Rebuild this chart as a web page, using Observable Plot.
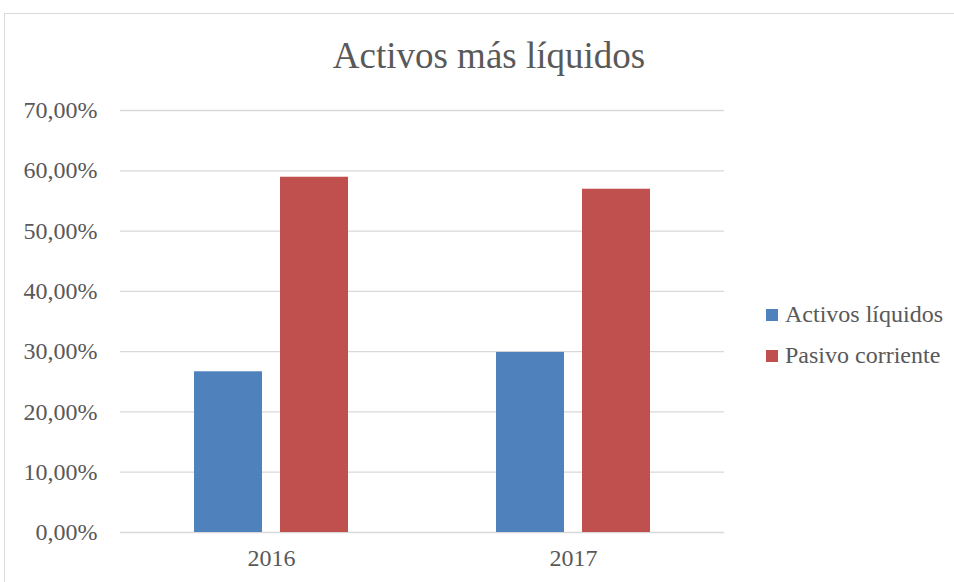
<!DOCTYPE html>
<html>
<head>
<meta charset="utf-8">
<script src="https://cdn.jsdelivr.net/npm/d3@7"></script>
<script src="https://cdn.jsdelivr.net/npm/@observablehq/plot@0.6"></script>
<style>
  html, body { margin: 0; padding: 0; background: #fff; }
  body { width: 954px; height: 582px; position: relative; overflow: hidden; font-family: "Liberation Serif", "Times New Roman", serif; }
  #frame { position: absolute; left: 4px; top: 13px; width: 980px; height: 600px; border: 1px solid #d9d9d9; box-sizing: border-box; }
  #title { position: absolute; left: 0; top: 33px; width: 978px; text-align: center; font-size: 37px; line-height: 46px; color: #595959; }
  #chart { position: absolute; left: 0; top: 90px; }
  #legend { position: absolute; left: 766px; top: 294px; font-size: 24px; color: #595959; }
  #legend .item { display: flex; align-items: center; height: 41px; }
  #legend .sw { width: 12px; height: 12px; margin-right: 7px; }
</style>
</head>
<body>
<div id="frame"></div>
<div id="title">Activos más líquidos</div>
<div id="chart"></div>
<div id="legend"></div>
<script>
const years = ["2016", "2017"];
const seriesNames = ["Activos líquidos", "Pasivo corriente"];
const seriesColors = ["#4f81bd", "#c0504d"];
const activosLiquidos = [26.66, 29.87];
const pasivoCorriente = [58.93, 56.94];
const yTicks = [0, 10, 20, 30, 40, 50, 60, 70];

const data = [];
years.forEach((y, i) => {
  data.push({year: y, serie: seriesNames[0], value: activosLiquidos[i]});
  data.push({year: y, serie: seriesNames[1], value: pasivoCorriente[i]});
});

const fmt = d => d.toFixed(2).replace(".", ",") + "%";

const chart = Plot.plot({
  width: 740,
  height: 492,
  marginLeft: 120,
  marginRight: 16,
  marginTop: 20,
  marginBottom: 50,
  style: {fontFamily: "Liberation Serif, Times New Roman, serif", fontSize: "24px", color: "#595959", background: "transparent"},
  fx: {domain: years, padding: 0, label: null, axis: "bottom", tickSize: 0, tickPadding: 16},
  x: {domain: seriesNames, paddingInner: 0.21, paddingOuter: 0.86, axis: null},
  y: {domain: [0, 70], axis: null},
  color: {domain: seriesNames, range: seriesColors},
  marks: [
    Plot.ruleY(yTicks, {y: d => d, stroke: "#d9d9d9", strokeWidth: 1.3, strokeOpacity: 1, facetAnchor: null}),
    Plot.axisY({ticks: yTicks, tickFormat: fmt, tickSize: 0, tickPadding: 23, label: null, fill: "#595959", fontSize: 24, anchor: "left"}),
    Plot.barY(data, {fx: "year", x: "serie", y: "value", fill: "serie"})
  ]
});
document.getElementById("chart").appendChild(chart);

const legend = document.getElementById("legend");
seriesNames.forEach((n, i) => {
  const item = document.createElement("div");
  item.className = "item";
  const sw = document.createElement("div");
  sw.className = "sw";
  sw.style.background = seriesColors[i];
  const t = document.createElement("span");
  t.textContent = n;
  item.appendChild(sw);
  item.appendChild(t);
  legend.appendChild(item);
});
</script>
</body>
</html>
